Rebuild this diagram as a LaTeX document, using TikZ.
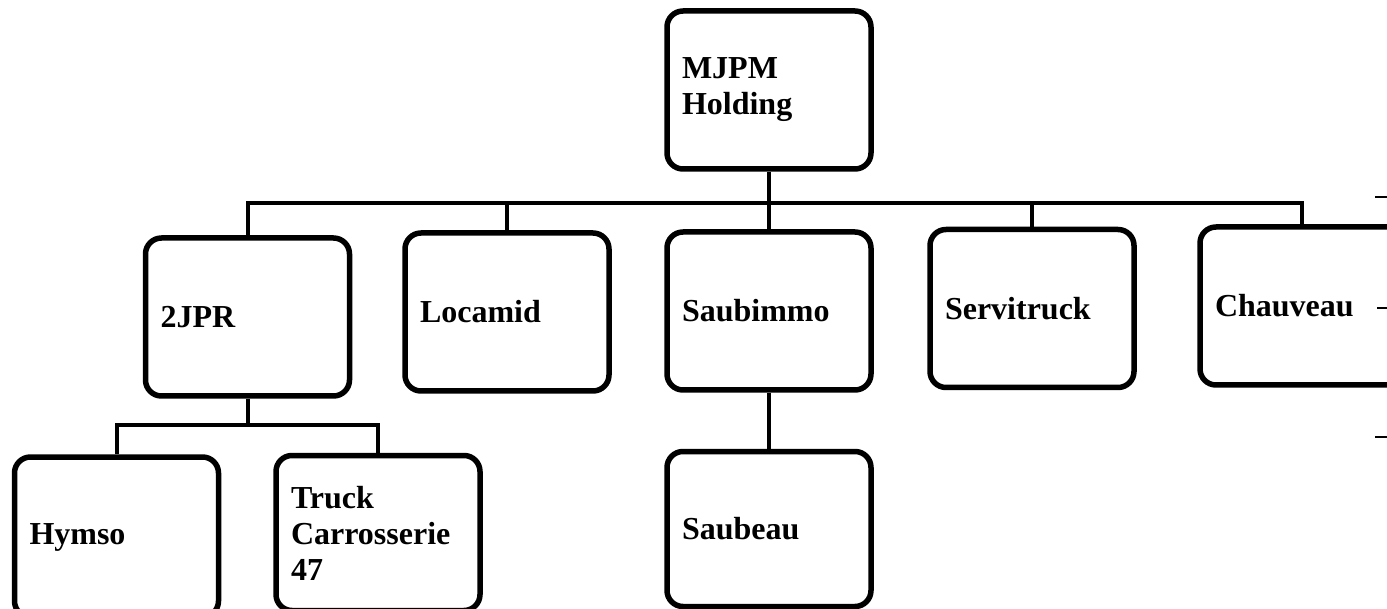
\documentclass[tikz,border=0pt]{standalone}
\usepackage{fontspec}
\setmainfont{Liberation Serif}
\begin{document}
\begin{tikzpicture}[x=1pt,y=-1pt,
  orgbox/.style={draw=black, line width=5.5pt, rounded corners=16pt, fill=white,
    text width=174pt, inner xsep=15pt, inner ysep=0pt, align=left,
    minimum height=158pt, font=\bfseries\fontsize{32}{36}\selectfont},
  lowbox/.style={orgbox, minimum height=155pt},
  conn/.style={draw=black, line width=4pt},
  tick/.style={draw=black, line width=1.5pt}]
\useasboundingbox (0,0) rectangle (1387,609);
\clip (0,0) rectangle (1387,609);
\fill[white] (0,0) rectangle (1387,609);
\coordinate (bus) at (0,203);
\coordinate (sub) at (0,425);
\node[orgbox] (top) at (769,90) {MJPM\\Holding};
\node[orgbox] (jpr) at (247.5,317) {2JPR};
\node[orgbox] (loc) at (507,312) {Locamid};
\node[orgbox] (saubimmo) at (769,311) {Saubimmo};
\node[orgbox] (servi) at (1032,308.5) {Servitruck};
\node[orgbox] (chau) at (1302,306) {Chauveau};
\node[lowbox, minimum height=160pt] (hymso) at (116.5,537) {Hymso};
\node[lowbox] (truck) at (378,533) {Truck\\Carrosserie\\47};
\node[lowbox] (saubeau) at (769,529) {Saubeau};
\draw[conn] (top.south) -- (top.south |- bus);
\draw[conn] (jpr.north) -- (jpr.north |- bus) -- (chau.north |- bus) -- (chau.north);
\draw[conn] (loc.north) -- (loc.north |- bus);
\draw[conn] (saubimmo.north) -- (saubimmo.north |- bus);
\draw[conn] (servi.north) -- (servi.north |- bus);
\draw[conn] (jpr.south) -- (jpr.south |- sub);
\draw[conn] (hymso.north) -- (hymso.north |- sub) -- (truck.north |- sub) -- (truck.north);
\draw[conn] (saubimmo.south) -- (saubeau.north);
% small marks at the right edge
\draw[tick] (1375,197) -- (1387,197);
\draw[tick] (1377,308) -- (1387,308);
\draw[tick] (1375,437) -- (1387,437);
\end{tikzpicture}
\end{document}
